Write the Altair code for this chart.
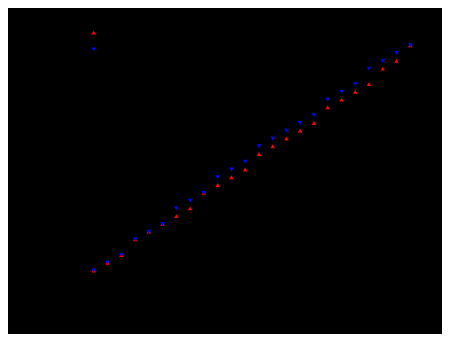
import altair as alt
import pandas as pd

x_vals = list(range(1, 25))
red_vals = [0, 1, 2, 4, 5, 6, 7, 8, 10, 11, 12, 13, 15, 16, 17, 18, 19, 21, 22, 23, 24, 26, 27, 29]
blue_vals = [0, 1, 2, 4, 5, 6, 8, 9, 10, 12, 13, 14, 16, 17, 18, 19, 20, 22, 23, 24, 26, 27, 28, 29]
series = ["y1", "y2"]

rows = []
for xv, r in zip(x_vals, red_vals):
    rows.append({"x": xv, "y": r, "series": series[0]})
for xv, b in zip(x_vals, blue_vals):
    rows.append({"x": xv, "y": b, "series": series[1]})
df = pd.DataFrame(rows)

leg = dict(title=None, orient="none", legendX=8, legendY=5, padding=0, rowPadding=5,
           labelFontSize=11, labelColor="black", symbolSize=20)

chart = alt.Chart(df).mark_point(filled=True, size=20, opacity=1).encode(
    x=alt.X("x:Q", scale=alt.Scale(domain=[0, 25], nice=False, zero=False),
            axis=alt.Axis(grid=False, title=None)),
    y=alt.Y("y:Q", scale=alt.Scale(domain=[-2, 32], nice=False, zero=False),
            axis=alt.Axis(grid=False, title=None)),
    color=alt.Color("series:N", scale=alt.Scale(domain=series, range=["#ff0000", "#0000ff"]),
                    legend=alt.Legend(**leg)),
    shape=alt.Shape("series:N", scale=alt.Scale(domain=series, range=["triangle-up", "triangle-down"]),
                    legend=alt.Legend(**leg)),
).properties(
    width=344, height=264,
    autosize=alt.AutoSizeParams(type="none"),
    padding={"left": 72, "top": 14, "right": 18, "bottom": 48},
    background="black",
).configure_view(stroke=None).configure_axis(
    domainColor="black", tickColor="black", labelColor="black", titleColor="black"
)

chart.save("out.html", embed_options={"renderer": "svg", "actions": False})
